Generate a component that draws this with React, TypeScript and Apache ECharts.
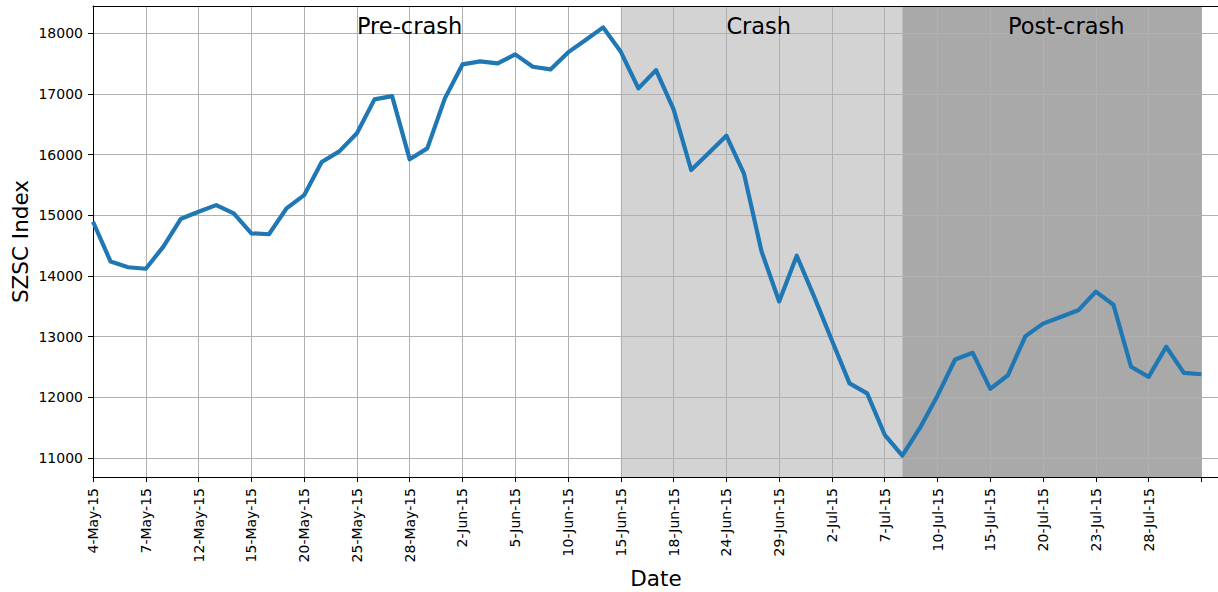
import React, { useEffect, useRef } from "react";
import * as echarts from "echarts";

// Trading days (the last one only pads the axis beyond the final observation)
const dates = [
  "4-May-15", "5-May-15", "6-May-15", "7-May-15", "8-May-15",
  "11-May-15", "12-May-15", "13-May-15", "14-May-15", "15-May-15",
  "18-May-15", "19-May-15", "20-May-15", "21-May-15", "22-May-15",
  "25-May-15", "26-May-15", "27-May-15", "28-May-15", "29-May-15",
  "1-Jun-15", "2-Jun-15", "3-Jun-15", "4-Jun-15", "5-Jun-15",
  "8-Jun-15", "9-Jun-15", "10-Jun-15", "11-Jun-15", "12-Jun-15",
  "15-Jun-15", "16-Jun-15", "17-Jun-15", "18-Jun-15", "19-Jun-15",
  "23-Jun-15", "24-Jun-15", "25-Jun-15", "26-Jun-15", "29-Jun-15",
  "30-Jun-15", "1-Jul-15", "2-Jul-15", "3-Jul-15", "6-Jul-15",
  "7-Jul-15", "8-Jul-15", "9-Jul-15", "10-Jul-15", "13-Jul-15",
  "14-Jul-15", "15-Jul-15", "16-Jul-15", "17-Jul-15", "20-Jul-15",
  "21-Jul-15", "22-Jul-15", "23-Jul-15", "24-Jul-15", "27-Jul-15",
  "28-Jul-15", "29-Jul-15", "30-Jul-15", "31-Jul-15", "3-Aug-15",
];

// SZSC index closes
const szsc = [
  14895, 14239, 14145, 14120, 14485,
  14945, 15060, 15169, 15033, 14705,
  14689, 15115, 15333, 15880, 16055,
  16353, 16913, 16967, 15924, 16105,
  16929, 17489, 17539, 17506, 17654,
  17450, 17407, 17687, 17890, 18099,
  17697, 17094, 17395, 16748, 15748,
  16028, 16314, 15688, 14405, 13581,
  14334, 13653, 12937, 12230, 12066,
  11383, 11040, 11495, 12028, 12624,
  12734, 12139, 12364, 13010, 13215,
  13325, 13435, 13744, 13527, 12504,
  12338, 12834, 12404, 12381,
];

const tickLabels = [
  "4-May-15", "7-May-15", "12-May-15", "15-May-15", "20-May-15", "25-May-15",
  "28-May-15", "2-Jun-15", "5-Jun-15", "10-Jun-15", "15-Jun-15", "18-Jun-15",
  "24-Jun-15", "29-Jun-15", "2-Jul-15", "7-Jul-15", "10-Jul-15", "15-Jul-15",
  "20-Jul-15", "23-Jul-15", "28-Jul-15",
];

const yTicks = [11000, 12000, 13000, 14000, 15000, 16000, 17000, 18000];
const yMin = 10687;
const yMax = 18452;

const regionNames = ["Pre-crash", "Crash", "Post-crash"];
const regionStarts = ["4-May-15", "15-Jun-15", "8-Jul-15"];
const regionEnds = ["15-Jun-15", "8-Jul-15", "31-Jul-15"];
const regionLabelAt = ["25-May-15", "24-Jun-15", "16-Jul-15"];
const regionLabelValue = 18000;

const FONT = "DejaVu Sans";

export default function App() {
  const ref = useRef<HTMLDivElement>(null);

  useEffect(() => {
    if (!ref.current) return;
    const chart = echarts.init(ref.current, null, { renderer: "svg" });
    const shadeColors = [null, "#d3d3d3", "#a9a9a9"];
    chart.setOption({
      animation: false,
      backgroundColor: "#ffffff",
      textStyle: { fontFamily: FONT },
      grid: {
        left: 93,
        right: -1,
        top: 6,
        bottom: 115,
        containLabel: false,
        outerBoundsMode: "none",
      },
      xAxis: [
        {
          type: "category",
          data: dates,
          boundaryGap: false,
          z: 3,
          axisLine: { show: true, lineStyle: { color: "#000", width: 1 } },
          axisTick: { show: true, interval: 2, length: 5, lineStyle: { color: "#000", width: 1 } },
          axisLabel: {
            interval: 2,
            rotate: 90,
            fontSize: 14,
            color: "#000",
            fontFamily: FONT,
            margin: 11,
            formatter: (v: string) => (tickLabels.includes(v) ? v : ""),
          },
          splitLine: { show: true, interval: 2, lineStyle: { color: "#b0b0b0", width: 1 } },
          name: "Date",
          nameLocation: "middle",
          nameMoveOverlap: false,
          nameGap: 90,
          nameTextStyle: { fontSize: 21.5, color: "#000", fontFamily: FONT, lineHeight: 22 },
        },
        {
          type: "category",
          data: dates,
          boundaryGap: false,
          position: "top",
          z: 3,
          axisLine: { show: true, lineStyle: { color: "#000", width: 1 } },
          axisTick: { show: false },
          axisLabel: { show: false },
          splitLine: { show: false },
        },
      ],
      yAxis: {
        type: "value",
        min: yMin,
        max: yMax,
        z: 3,
        axisLine: { show: true, lineStyle: { color: "#000", width: 1 } },
        axisTick: { show: true, length: 5, customValues: yTicks, lineStyle: { color: "#000", width: 1 } },
        axisLabel: {
          customValues: yTicks,
          fontSize: 14,
          color: "#000",
          fontFamily: FONT,
          margin: 10,
          formatter: (v: number) => String(Math.round(v)),
        },
        splitLine: { show: true, lineStyle: { color: "#b0b0b0", width: 1 } },
        name: "SZSC Index",
        nameLocation: "middle",
        nameMoveOverlap: false,
        nameGap: 62,
        nameTextStyle: { fontSize: 21.5, color: "#000", fontFamily: FONT, lineHeight: 22 },
      },
      series: [
        {
          type: "line",
          name: "shading",
          data: [],
          z: 1,
          silent: true,
          markArea: {
            silent: true,
            label: { show: false },
            data: regionNames
              .map((_, i) => i)
              .filter((i) => shadeColors[i])
              .map((i) => [
                { xAxis: regionStarts[i], itemStyle: { color: shadeColors[i], opacity: 1 } },
                { xAxis: regionEnds[i] },
              ]),
          },
        },
        {
          type: "line",
          name: "SZSC",
          data: szsc,
          z: 5,
          symbol: "none",
          showSymbol: false,
          lineStyle: { color: "#1f77b4", width: 4.2, join: "round" },
          markPoint: {
            silent: true,
            symbol: "rect",
            symbolSize: 0,
            itemStyle: { color: "transparent" },
            label: {
              show: true,
              formatter: "{b}",
              position: [0, 0],
              align: "left",
              verticalAlign: "middle",
              offset: [0, -7],
              color: "#000",
              fontSize: 22.5,
              fontFamily: FONT,
            },
            data: regionNames.map((n, i) => ({
              name: n,
              coord: [regionLabelAt[i], regionLabelValue],
            })),
          },
        },
      ],
    });
    return () => chart.dispose();
  }, []);

  return (
    <div
      ref={ref}
      style={{ position: "absolute", left: 0, top: 0, width: 1218, height: 592 }}
    />
  );
}
